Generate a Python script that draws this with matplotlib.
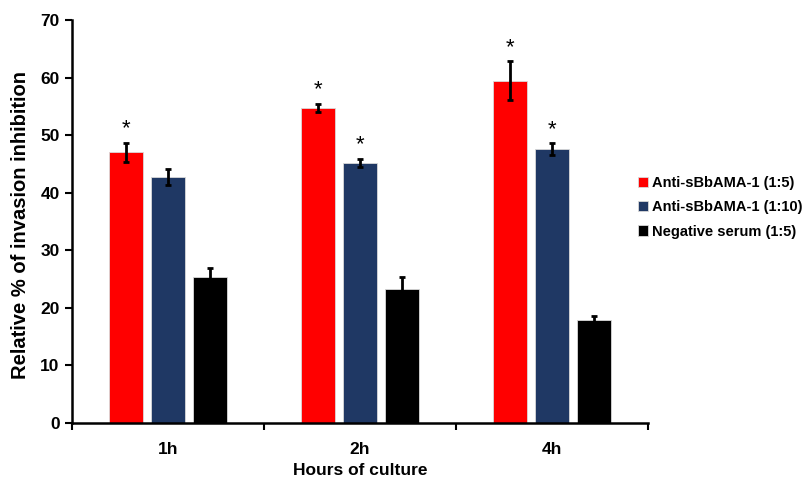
import matplotlib
matplotlib.use("Agg")
import matplotlib.pyplot as plt
import numpy as np

categories = ["1h", "2h", "4h"]
series_names = ["Anti-sBbAMA-1 (1:5)", "Anti-sBbAMA-1 (1:10)", "Negative serum (1:5)"]
red_vals = [47.0, 54.8, 59.5]
red_err = [1.7, 0.7, 3.4]
blue_vals = [42.7, 45.2, 47.6]
blue_err = [1.4, 0.7, 1.0]
black_vals = [25.4, 23.3, 17.9]
black_err = [1.6, 2.0, 0.7]
red_sig = [True, True, True]
blue_sig = [False, True, True]
black_sig = [False, False, False]

plt.rcParams['font.family'] = ['Liberation Sans', 'DejaVu Sans']
plt.rcParams['font.weight'] = 'bold'

fig = plt.figure(figsize=(8.09, 4.8), dpi=100)
ax = fig.add_axes([0.089, 0.119, 0.712, 0.839])

colors = ["#FF0000", "#1F3864", "#000000"]
vals = [red_vals, blue_vals, black_vals]
errs = [red_err, blue_err, black_err]
sigs = [red_sig, blue_sig, black_sig]
x = np.arange(len(categories))
width = 0.177
step = 0.219
handles = []
for i in range(3):
    pos = x + (i - 1) * step
    b = ax.bar(pos, vals[i], width, color=colors[i], edgecolor="#d9d9d9", linewidth=0.6,
               yerr=errs[i], error_kw=dict(ecolor="black", elinewidth=2, capsize=2.5, capthick=2),
               label=series_names[i], zorder=2)
    handles.append(b)
    for p, v, e, s in zip(pos, vals[i], errs[i], sigs[i]):
        if s:
            ax.text(p, v + e + 2.4, "*", ha="center", va="center", fontsize=16, fontweight="normal")

ax.set_xlim(-0.5, 2.5)
ax.set_ylim(0, 70)
ax.set_yticks(range(0, 71, 10))
ax.set_xticks(x)
ax.set_xticklabels(categories)
ax.set_xticks(np.arange(-0.5, 2.6, 1.0), minor=True)
ax.tick_params(axis='x', which='major', length=0, labelsize=12.5, pad=14)
ax.tick_params(axis='x', which='minor', length=5, width=1.5, direction='out')
ax.tick_params(axis='y', length=5, width=1.5, direction='out', labelsize=12.5, pad=4)
for lab in ax.get_xticklabels() + ax.get_yticklabels():
    lab.set_fontweight('bold')
for s in ['top', 'right']:
    ax.spines[s].set_visible(False)
for s in ['left', 'bottom']:
    ax.spines[s].set_linewidth(1.8)

ax.set_xlabel("Hours of culture", fontsize=12.5, fontweight='bold', labelpad=4)
ax.set_ylabel("Relative % of invasion inhibition", fontsize=14.5, fontweight='bold')
ax.yaxis.set_label_coords(-0.073, 0.491)

leg = fig.legend(handles=handles, labels=series_names, loc='center left',
                 bbox_to_anchor=(0.772, 0.568), frameon=False, fontsize=10.5,
                 handlelength=0.7, handleheight=0.7, handletextpad=0.3, labelspacing=0.7)
for t in leg.get_texts():
    t.set_fontweight('bold')

fig.savefig("out.png", dpi=100)
